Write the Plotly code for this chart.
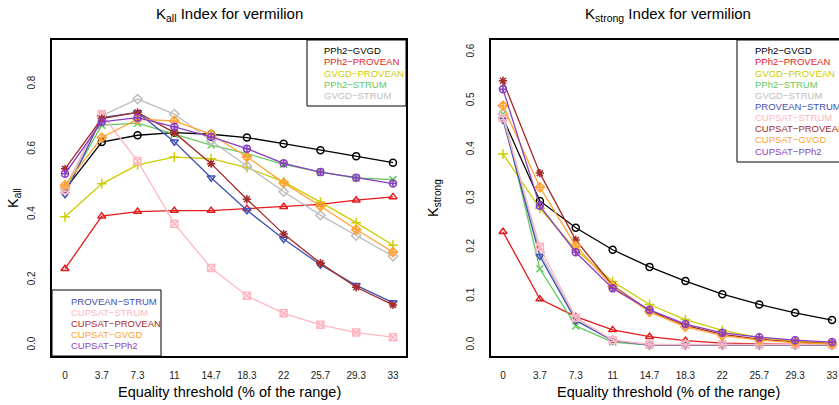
import plotly.graph_objects as go

W, H = 839, 405

x_vals = [0, 3.7, 7.3, 11, 14.7, 18.3, 22, 25.7, 29.3, 33]
x_labels = ["0", "3.7", "7.3", "11", "14.7", "18.3", "22", "25.7", "29.3", "33"]

series_names = ["PPh2−GVGD", "PPh2−PROVEAN", "GVGD−PROVEAN", "PPh2−STRUM", "GVGD−STRUM",
                "PROVEAN−STRUM", "CUPSAT−STRUM", "CUPSAT−PROVEAN", "CUPSAT−GVGD", "CUPSAT−PPh2"]
colors = ["#000000", "#E41A1C", "#CDCD00", "#66C95F", "#BEBEBE",
          "#3F51B5", "#FFB6C1", "#A52A2A", "#FFA333", "#8A3FC0"]
symbols = ["circle-open", "triangle-up-open", "cross-thin-open", "x-thin-open", "diamond-open",
           "triangle-down-open", "square-x-open", "asterisk-open", "diamond-cross-open", "circle-cross-open"]

# K_all values
k_all = [
    [0.477, 0.622, 0.643, 0.651, 0.646, 0.636, 0.617, 0.597, 0.579, 0.559],
    [0.234, 0.395, 0.409, 0.412, 0.412, 0.418, 0.424, 0.431, 0.444, 0.454],
    [0.393, 0.494, 0.552, 0.576, 0.571, 0.544, 0.500, 0.438, 0.375, 0.306],
    [0.476, 0.674, 0.680, 0.646, 0.613, 0.587, 0.554, 0.530, 0.512, 0.507],
    [0.481, 0.703, 0.754, 0.708, 0.626, 0.549, 0.470, 0.398, 0.335, 0.272],
    [0.462, 0.697, 0.713, 0.623, 0.513, 0.413, 0.325, 0.246, 0.183, 0.130],
    [0.475, 0.708, 0.564, 0.372, 0.236, 0.151, 0.097, 0.062, 0.038, 0.024],
    [0.540, 0.694, 0.713, 0.651, 0.556, 0.447, 0.340, 0.251, 0.177, 0.123],
    [0.490, 0.636, 0.692, 0.687, 0.646, 0.577, 0.497, 0.426, 0.354, 0.285],
    [0.525, 0.684, 0.697, 0.669, 0.638, 0.602, 0.557, 0.530, 0.513, 0.495],
]

# K_strong values
k_strong = [
    [0.465, 0.295, 0.240, 0.195, 0.160, 0.131, 0.104, 0.083, 0.066, 0.051],
    [0.232, 0.094, 0.058, 0.031, 0.017, 0.009, 0.004, 0.002, 0.001, 0.001],
    [0.391, 0.280, 0.195, 0.130, 0.083, 0.052, 0.030, 0.015, 0.008, 0.004],
    [0.473, 0.156, 0.039, 0.006, 0.000, 0.000, 0.000, 0.000, 0.000, 0.000],
    [0.473, 0.190, 0.053, 0.010, 0.000, 0.000, 0.000, 0.000, 0.000, 0.000],
    [0.461, 0.182, 0.050, 0.009, 0.000, 0.000, 0.000, 0.000, 0.000, 0.000],
    [0.465, 0.201, 0.056, 0.010, 0.001, 0.001, 0.001, 0.001, 0.001, 0.001],
    [0.541, 0.352, 0.215, 0.122, 0.070, 0.040, 0.022, 0.012, 0.006, 0.003],
    [0.490, 0.323, 0.203, 0.120, 0.068, 0.037, 0.019, 0.010, 0.005, 0.002],
    [0.524, 0.285, 0.190, 0.116, 0.072, 0.043, 0.025, 0.016, 0.010, 0.006],
]

left_ticks = [0.0, 0.2, 0.4, 0.6, 0.8]
right_ticks = [0.0, 0.1, 0.2, 0.3, 0.4, 0.5, 0.6]

FONT = "Liberation Sans, Arial, Helvetica, sans-serif"


def px(x):
    return x / W


def py(y):
    return 1 - y / H


fig = go.Figure()
for i in range(10):
    for data, xa, ya in ((k_all, "x", "y"), (k_strong, "x2", "y2")):
        fig.add_trace(go.Scatter(
            x=x_vals, y=data[i], xaxis=xa, yaxis=ya, mode="lines+markers",
            name=series_names[i], showlegend=False,
            line=dict(color=colors[i], width=1.3),
            marker=dict(symbol=symbols[i], size=7, color=colors[i],
                        line=dict(color=colors[i], width=1.5)),
        ))

axis_common = dict(showgrid=False, zeroline=False, showline=True, linecolor="black",
                   linewidth=2.2, ticks="outside", tickcolor="rgba(0,0,0,0)",
                   tickfont=dict(family=FONT, size=10, color="#222222"))

fig.update_layout(
    width=W, height=H, autosize=False,
    margin=dict(l=0, r=0, t=0, b=0),
    paper_bgcolor="white", plot_bgcolor="white",
    xaxis=dict(domain=[px(52), px(406)], range=[-1.31, 34.31], anchor="y",
               tickvals=x_vals, ticktext=x_labels, mirror=True, ticklen=9, **axis_common),
    yaxis=dict(domain=[py(356), py(40)], range=[-0.0337, 0.935], anchor="x",
               tickvals=left_ticks, ticktext=[f"{v:.1f}" for v in left_ticks],
               tickangle=-90, mirror=True, ticklen=11, **axis_common),
    xaxis2=dict(domain=[px(491), 1.0], range=[-1.2, 33.7], anchor="y2",
                tickvals=x_vals, ticktext=x_labels, mirror=True, ticklen=9, **axis_common),
    yaxis2=dict(domain=[py(356), py(40)], range=[-0.0225, 0.6246], anchor="x2",
                tickvals=right_ticks, ticktext=[f"{v:.1f}" for v in right_ticks],
                tickangle=-90, mirror=False, ticklen=11, **axis_common),
)

ann = []
# titles
ann.append(dict(text="K<sub>all</sub> Index for vermilion", x=px(229), y=py(15),
                font=dict(family=FONT, size=15, color="black")))
ann.append(dict(text="K<sub>strong</sub> Index for vermilion", x=px(668), y=py(15),
                font=dict(family=FONT, size=15, color="black")))
# x titles
for cx in (229, 668):
    ann.append(dict(text="Equality threshold (% of the range)", x=px(cx), y=py(392),
                    font=dict(family=FONT, size=14.5, color="black")))
# y titles
ann.append(dict(text="K<sub>all</sub>", x=px(14), y=py(198), textangle=-90,
                font=dict(family=FONT, size=14.5, color="black")))
ann.append(dict(text="K<sub>strong</sub>", x=px(434), y=py(198), textangle=-90,
                font=dict(family=FONT, size=14.5, color="black")))

# legends (text only)
row = 11.15
for k, i in enumerate(range(0, 5)):
    ann.append(dict(text=series_names[i], x=px(322), y=py(50.7 + k * row), xanchor="left",
                    font=dict(family=FONT, size=9.5, color=colors[i])))
for k, i in enumerate(range(5, 10)):
    ann.append(dict(text=series_names[i], x=px(69), y=py(301.3 + k * row), xanchor="left",
                    font=dict(family=FONT, size=9.5, color=colors[i])))
for i in range(10):
    ann.append(dict(text=series_names[i], x=px(752.5), y=py(50.7 + i * row), xanchor="left",
                    font=dict(family=FONT, size=9.5, color=colors[i])))

for a in ann:
    a.setdefault("xanchor", "center")
    a.update(xref="paper", yref="paper", yanchor="middle", showarrow=False)
fig.update_layout(annotations=ann)

shapes = [
    dict(type="rect", xref="paper", yref="paper", x0=px(307), x1=px(406), y0=py(106), y1=py(40),
         line=dict(color="black", width=1)),
    dict(type="rect", xref="paper", yref="paper", x0=px(52), x1=px(161), y0=py(356), y1=py(290),
         line=dict(color="black", width=1)),
    dict(type="rect", xref="paper", yref="paper", x0=px(737), x1=px(850), y0=py(162), y1=py(40),
         line=dict(color="black", width=1)),
]
fig.update_layout(shapes=shapes)

fig.write_html("out.html", config={"displayModeBar": False},
               post_script="document.body.style.margin='0';document.body.style.overflow='hidden';")
